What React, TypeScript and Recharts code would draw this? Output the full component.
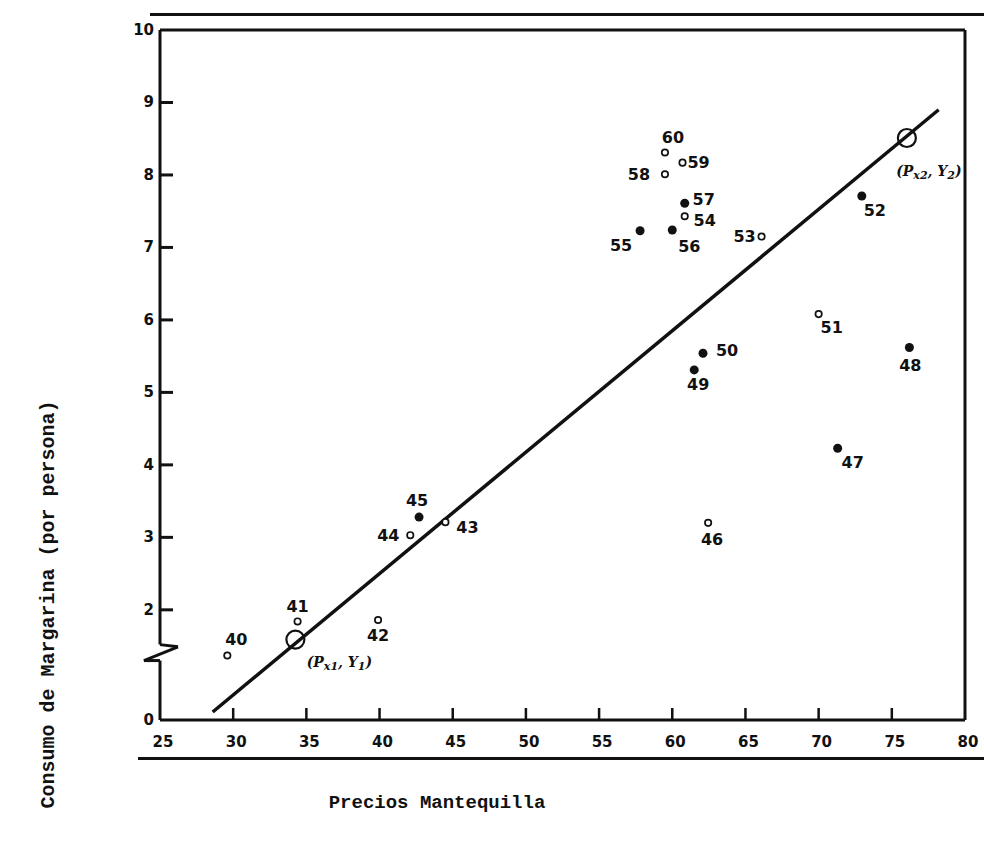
import React from 'react';
import { ComposedChart, XAxis, YAxis, Scatter, ReferenceLine } from 'recharts';

// year of each observation (19xx) and its values
const YEARS = [40, 41, 42, 43, 44, 45, 46, 47, 48, 49, 50, 51, 52, 53, 54, 55, 56, 57, 58, 59, 60];
const BUTTER_PRICE = [29.6, 34.4, 39.9, 44.5, 42.1, 42.7, 62.45, 71.3, 76.2, 61.5, 62.1, 70.0, 72.95, 66.1, 60.85, 57.8, 60.0, 60.85, 59.5, 60.7, 59.5];
const MARGARINE = [1.37, 1.84, 1.86, 3.21, 3.03, 3.28, 3.2, 4.23, 5.62, 5.31, 5.54, 6.08, 7.71, 7.15, 7.43, 7.23, 7.24, 7.61, 8.01, 8.17, 8.31];
const SOLID_YEARS = [45, 47, 48, 49, 50, 52, 55, 56, 57];

// fitted line ends and the two marked points on it
const FIT_X = [28.6, 78.2];
const FIT_Y = [0.59, 8.9];
const ANCHOR_X = [34.25, 76.03];
const ANCHOR_Y = [1.59, 8.51];
const ANCHOR_SUB = ['1', '2'];

// axis is broken below 2, the bottom of the frame is read as 0
const Y_FLOOR = 0.48;
const X_TICKS = [25, 30, 35, 40, 45, 50, 55, 60, 65, 70, 75, 80];
const Y_TICKS = [Y_FLOOR, 2, 3, 4, 5, 6, 7, 8, 9, 10];

const points = YEARS.map((year, i) => ({ year, x: BUTTER_PRICE[i], y: MARGARINE[i] }));
const anchors = ANCHOR_X.map((x, i) => ({ x, y: ANCHOR_Y[i], sub: ANCHOR_SUB[i] }));

// where each year label sits relative to its dot
const LABEL_SPOT: Record<number, [number, number]> = {
  40: [9, -16], 41: [0, -15], 42: [0, 16], 43: [22, 5], 44: [-22, 0], 45: [-2, -17],
  46: [4, 17], 47: [15, 14], 48: [1, 18], 49: [4, 15], 50: [24, -3], 51: [13, 13],
  52: [13, 15], 53: [-17, 0], 54: [20, 4], 55: [-19, 15], 56: [17, 16], 57: [19, -4],
  58: [-26, 0], 59: [16, 0], 60: [8, -15],
};

const ANCHOR_LABEL: Record<string, [number, number]> = { '1': [44, 22], '2': [22, 33] };

const INK = '#111';
const labelFont = { fontFamily: 'DejaVu Sans', fontWeight: 700, fontSize: 16, fill: INK };

const YearDot = (props: any) => {
  const { cx, cy, payload } = props;
  const [dx, dy] = LABEL_SPOT[payload.year] ?? [14, 0];
  const solid = SOLID_YEARS.includes(payload.year);
  return (
    <g>
      {solid ? (
        <circle cx={cx} cy={cy} r={4.5} fill={INK} />
      ) : (
        <circle cx={cx} cy={cy} r={3.2} fill="#fff" stroke={INK} strokeWidth={1.7} />
      )}
      <text x={cx + dx} y={cy + dy} textAnchor="middle" dominantBaseline="central" {...labelFont}>
        {payload.year}
      </text>
    </g>
  );
};

const AnchorDot = (props: any) => {
  const { cx, cy, payload } = props;
  const [dx, dy] = ANCHOR_LABEL[payload.sub];
  return (
    <g>
      <circle cx={cx} cy={cy} r={9} fill="none" stroke={INK} strokeWidth={2.2} />
      <text x={cx + dx} y={cy + dy} textAnchor="middle" dominantBaseline="central"
        fontFamily="DejaVu Serif" fontStyle="italic" fontWeight={700} fontSize={14} fill={INK}>
        (P<tspan fontSize={11} dy={4}>x{payload.sub}</tspan>
        <tspan dy={-4}>, Y</tspan>
        <tspan fontSize={11} dy={4}>{payload.sub}</tspan>
        <tspan dy={-4}>)</tspan>
      </text>
    </g>
  );
};

const YTick = (props: any) => {
  const { x, y, payload } = props;
  const v = payload.value;
  return (
    <g>
      {v > 1 && v < 10 && <line x1={x} y1={y} x2={x + 13} y2={y} stroke={INK} strokeWidth={3} />}
      <text x={x - 6} y={y} textAnchor="end" dominantBaseline="central"
        fontFamily="DejaVu Sans" fontWeight={700} fontSize={15} fill={INK}>
        {v < 1 ? '0' : v}
      </text>
    </g>
  );
};

const XTick = (props: any) => {
  const { x, y, payload } = props;
  const v = payload.value;
  return (
    <g>
      {v > 25 && v < 80 && <line x1={x} y1={y} x2={x} y2={y - 12} stroke={INK} strokeWidth={2.5} />}
      <text x={x + 3} y={y + 22} textAnchor="middle" dominantBaseline="central"
        fontFamily="DejaVu Sans" fontWeight={700} fontSize={15} fill={INK}>
        {v}
      </text>
    </g>
  );
};

// left side of the frame, with the break mark
const LEFT_EDGE = [
  [{ x: 25, y: 10 }, { x: 25, y: 1.52 }],
  [{ x: 25, y: 1.52 }, { x: 26.23, y: 1.49 }],
  [{ x: 26.23, y: 1.49 }, { x: 23.9, y: 1.3 }],
  [{ x: 23.9, y: 1.3 }, { x: 25, y: 1.3 }],
  [{ x: 25, y: 1.3 }, { x: 25, y: Y_FLOOR }],
];

export default function App() {
  return (
    <div style={{ position: 'absolute', left: 0, top: 0, width: 984, height: 843, background: '#fff' }}>
      <div style={{ position: 'absolute', left: 150, top: 13, width: 834, height: 3, background: INK }} />
      <div style={{ position: 'absolute', left: 138, top: 757, width: 846, height: 3, background: INK }} />
      <ComposedChart width={984} height={843} margin={{ top: 30, right: 19, bottom: 93, left: 140 }}>
        <XAxis
          type="number"
          dataKey="x"
          domain={[25, 80]}
          ticks={X_TICKS}
          interval={0}
          allowDataOverflow
          height={30}
          tickSize={0}
          tickMargin={0}
          tickLine={false}
          axisLine={{ stroke: INK, strokeWidth: 3 }}
          tick={XTick}
        />
        <YAxis
          type="number"
          dataKey="y"
          domain={[Y_FLOOR, 10]}
          ticks={Y_TICKS}
          interval={0}
          allowDataOverflow
          width={20}
          tickSize={0}
          tickMargin={0}
          tickLine={false}
          axisLine={false}
          tick={YTick}
        />
        <ReferenceLine y={10} stroke={INK} strokeWidth={3} />
        <ReferenceLine x={80} stroke={INK} strokeWidth={3} />
        {LEFT_EDGE.map((seg, i) => (
          <ReferenceLine key={i} segment={seg} stroke={INK} strokeWidth={3} ifOverflow="visible" />
        ))}
        <ReferenceLine
          segment={[{ x: FIT_X[0], y: FIT_Y[0] }, { x: FIT_X[1], y: FIT_Y[1] }]}
          stroke={INK}
          strokeWidth={3.5}
        />
        <Scatter data={points} shape={YearDot} isAnimationActive={false} />
        <Scatter data={anchors} shape={AnchorDot} isAnimationActive={false} />
      </ComposedChart>
      <div style={{ position: 'absolute', left: 237, top: 792, width: 400, textAlign: 'center',
        fontFamily: 'Liberation Mono', fontSize: 19, color: INK, fontWeight: 700 }}>
        Precios Mantequilla
      </div>
      <div style={{ position: 'absolute', left: 48, top: 605, width: 0, height: 0 }}>
        <div style={{ position: 'absolute', left: -300, top: -12, width: 600, textAlign: 'center',
          transform: 'rotate(-90deg)', fontFamily: 'Liberation Mono', fontSize: 20, color: INK,
          fontWeight: 700, whiteSpace: 'nowrap' }}>
          Consumo de Margarina (por persona)
        </div>
      </div>
    </div>
  );
}
